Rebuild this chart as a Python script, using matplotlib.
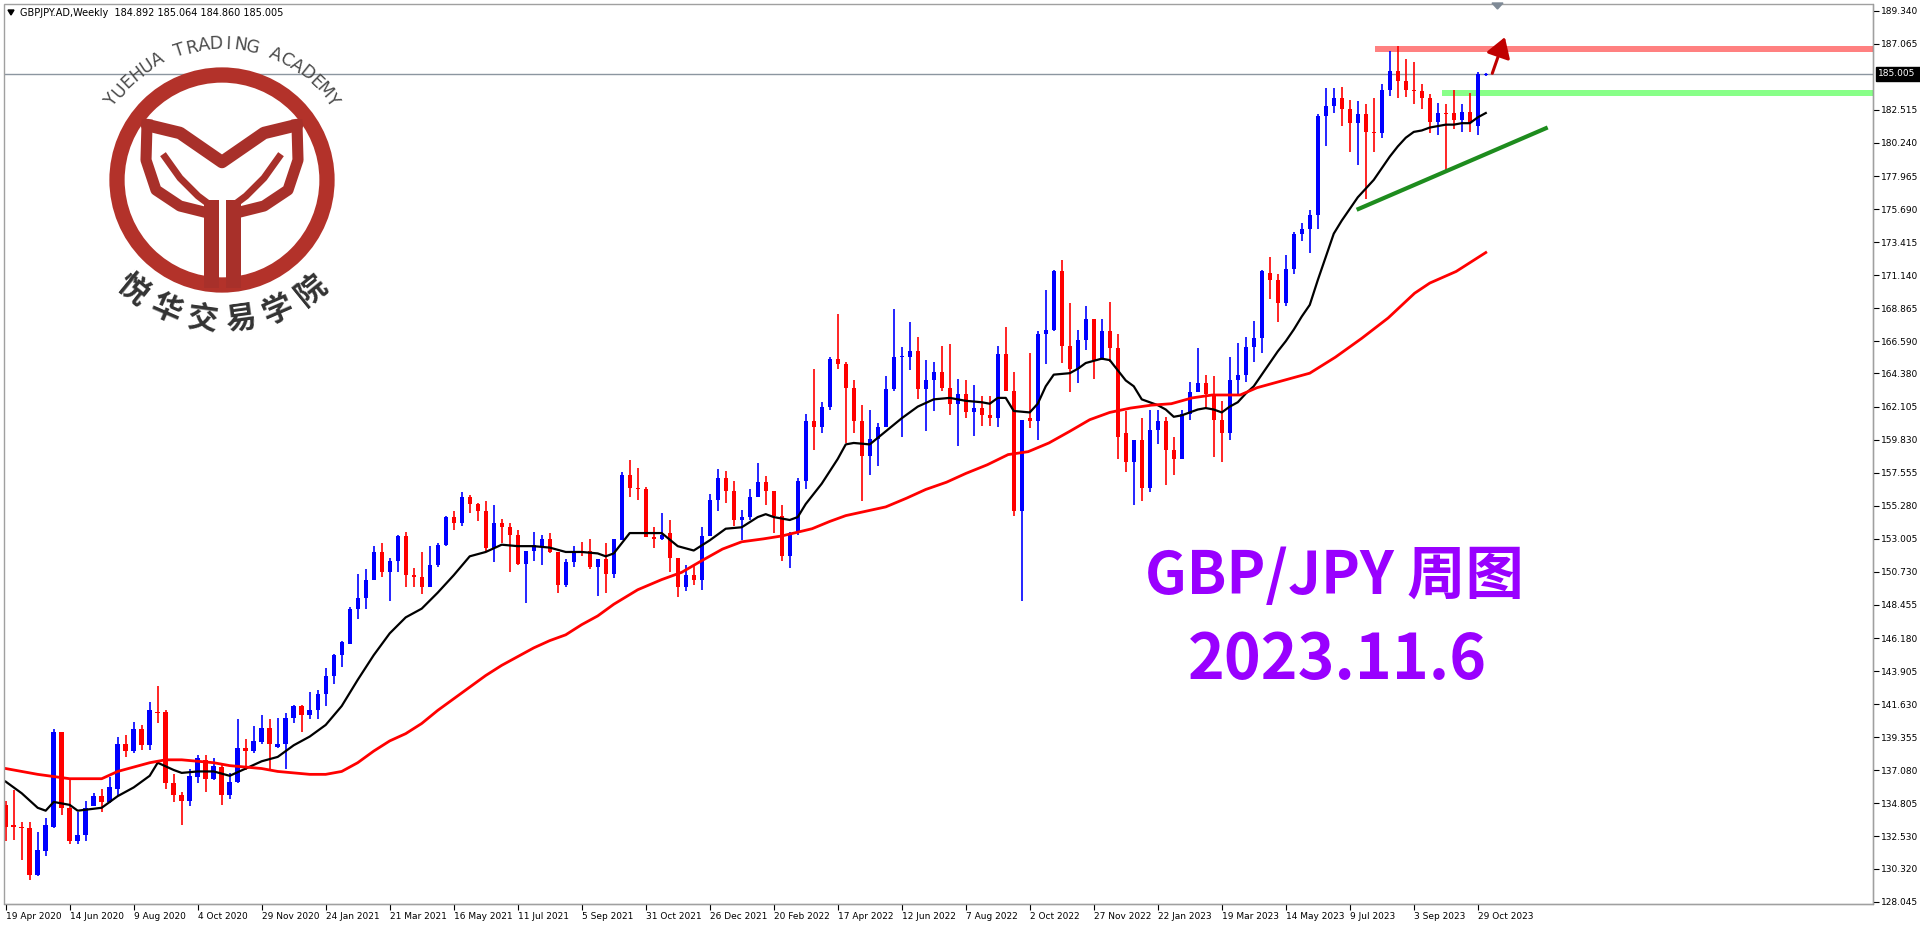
import numpy as np
import pandas as pd
import matplotlib
matplotlib.use("Agg")
import matplotlib.pyplot as plt
from matplotlib.patches import Circle, Rectangle, FancyArrowPatch

# -----------------------------------------
# Weekly GBPJPY candles (19 Apr 2020 .. 5 Nov 2023)
# -----------------------------------------
opens = [
    134.7, 133.3, 133.2, 133.1, 129.9, 131.5, 133.2, 139.7, 134.5, 132.2,
    132.6, 134.6, 135.3, 134.9, 135.8, 138.9, 138.4, 139.9, 138.8, 141.1,
    141.1, 136.2, 135.4, 135.0, 136.6, 137.8, 136.5, 137.3, 135.4, 136.3,
    138.6, 138.4, 139.0, 140.0, 138.7, 138.9, 140.7, 141.5, 140.9, 141.2,
    142.3, 143.6, 145.0, 145.8, 148.2, 148.9, 150.2, 152.1, 150.7, 151.5,
    153.2, 150.5, 150.4, 149.7, 151.2, 152.6, 154.5, 154.1, 155.9, 155.4,
    154.9, 152.4, 154.1, 153.8, 153.3, 151.3, 152.2, 152.5, 153.0, 152.1,
    149.8, 151.4, 152.2, 152.2, 151.1, 151.6, 150.6, 152.9, 157.4, 156.5,
    156.4, 153.1, 153.0, 153.4, 151.7, 149.7, 150.5, 150.2, 153.2, 155.7,
    157.2, 156.3, 154.3, 154.5, 155.9, 156.9, 156.3, 154.6, 151.8, 153.4,
    157.0, 161.1, 160.7, 162.1, 165.4, 165.0, 163.4, 161.1, 158.7, 159.9,
    160.7, 163.3, 165.5, 165.5, 165.9, 163.3, 163.9, 164.5, 163.4, 162.3,
    163.0, 161.7, 162.0, 161.5, 161.3, 165.7, 163.2, 154.9, 161.3, 161.1,
    167.1, 167.4, 171.4, 166.3, 164.7, 166.7, 168.1, 165.3, 167.3, 166.1,
    160.3, 158.3, 159.8, 156.5, 160.5, 161.1, 159.1, 158.5, 161.6, 163.1,
    163.7, 163.0, 161.2, 160.3, 163.9, 164.3, 166.2, 166.8, 171.3, 170.8,
    169.2, 171.6, 174.0, 174.3, 175.3, 182.1, 182.8, 183.3, 182.6, 181.6,
    182.2, 181.0, 180.9, 183.9, 185.2, 184.5, 183.9, 183.8, 183.3, 181.7,
    182.3, 182.3, 181.8, 182.4, 181.4, 184.892,
]
closes = [
    133.2, 133.2, 133.1, 129.9, 131.6, 133.3, 139.7, 134.5, 132.2, 132.6,
    134.5, 135.3, 134.9, 135.9, 138.9, 138.4, 139.9, 138.8, 141.2, 141.0,
    136.2, 135.4, 135.0, 136.7, 137.9, 136.5, 137.4, 135.4, 136.3, 138.6,
    138.4, 139.1, 140.0, 138.9, 138.9, 140.7, 141.5, 140.9, 141.2, 142.3,
    143.6, 145.0, 145.9, 148.2, 148.9, 150.2, 152.1, 150.7, 151.5, 153.2,
    150.5, 150.4, 149.7, 151.2, 152.6, 154.5, 154.1, 155.9, 155.4, 154.9,
    152.4, 154.1, 153.8, 153.3, 151.3, 152.2, 152.6, 153.0, 152.1, 149.8,
    151.4, 152.2, 152.1, 151.1, 151.6, 150.6, 153.0, 157.4, 156.5, 156.4,
    153.1, 153.0, 153.3, 151.7, 149.7, 150.5, 150.2, 153.2, 155.7, 157.2,
    156.3, 154.3, 154.5, 155.9, 156.9, 156.3, 154.6, 151.8, 153.4, 157.0,
    161.1, 160.7, 162.1, 165.4, 165.0, 163.4, 161.1, 158.7, 159.9, 160.7,
    163.3, 165.5, 165.5, 165.9, 163.3, 163.9, 164.5, 163.4, 162.3, 163.0,
    161.7, 162.0, 161.5, 161.3, 165.7, 163.2, 154.9, 161.2, 161.1, 167.1,
    167.4, 171.4, 166.3, 164.7, 166.7, 168.1, 165.3, 167.3, 166.1, 160.0,
    158.3, 159.8, 156.5, 160.5, 161.1, 159.1, 158.5, 161.6, 163.1, 163.7,
    163.0, 161.2, 160.3, 163.9, 164.3, 166.2, 166.8, 171.4, 170.8, 169.2,
    171.6, 174.0, 174.3, 175.3, 182.1, 182.8, 183.3, 182.6, 181.6, 182.2,
    181.0, 180.9, 183.9, 185.2, 184.5, 183.9, 183.8, 183.3, 181.7, 182.3,
    182.2, 181.8, 182.4, 181.6, 185.0, 185.005,
]
highs = [
    135.0, 135.7, 133.5, 133.5, 132.8, 133.8, 139.9, 139.7, 136.5, 134.2,
    135.0, 135.5, 135.8, 136.6, 139.4, 139.5, 140.4, 140.2, 141.8, 142.9,
    141.2, 136.8, 135.6, 137.2, 138.1, 138.1, 137.9, 137.6, 136.9, 140.6,
    139.2, 140.1, 140.9, 140.6, 140.7, 141.0, 141.6, 141.6, 142.5, 142.6,
    144.1, 145.1, 146.0, 148.3, 150.6, 150.9, 152.5, 152.7, 151.7, 153.3,
    153.5, 151.0, 152.1, 152.5, 152.7, 154.6, 154.9, 156.2, 156.0, 155.5,
    155.6, 155.3, 154.4, 154.1, 153.6, 152.2, 153.5, 153.3, 153.4, 152.1,
    151.6, 152.5, 152.8, 153.0, 151.6, 152.7, 153.0, 157.6, 158.4, 157.9,
    156.6, 153.8, 154.8, 154.3, 151.7, 151.2, 151.2, 153.8, 156.1, 157.8,
    157.7, 157.0, 155.0, 156.4, 158.2, 157.3, 156.3, 155.3, 153.5, 157.2,
    161.6, 164.7, 162.4, 165.5, 168.5, 165.2, 163.9, 162.2, 161.9, 161.0,
    164.2, 168.8, 166.2, 167.9, 166.9, 165.3, 165.2, 166.3, 166.4, 164.0,
    163.9, 163.6, 162.8, 162.8, 166.3, 167.6, 164.5, 161.2, 165.8, 167.3,
    170.1, 171.5, 172.2, 169.2, 167.4, 169.0, 168.1, 168.1, 169.3, 167.1,
    161.8, 159.8, 161.3, 161.9, 161.9, 161.4, 160.0, 161.9, 163.8, 166.1,
    164.3, 164.2, 162.5, 165.5, 166.5, 166.9, 168.0, 171.5, 172.4, 171.2,
    172.5, 174.1, 174.7, 175.6, 182.2, 184.0, 184.0, 184.1, 183.2, 183.1,
    182.9, 183.3, 184.3, 186.6, 186.9, 186.0, 185.8, 184.3, 183.6, 183.0,
    182.9, 183.9, 182.9, 183.7, 185.1, 185.064,
]
lows = [
    132.2, 132.3, 130.9, 129.5, 129.8, 131.2, 133.1, 134.0, 132.0, 132.0,
    132.2, 134.6, 134.2, 134.8, 135.3, 138.0, 138.3, 138.5, 138.5, 140.3,
    135.8, 134.9, 133.3, 134.6, 136.2, 135.6, 136.4, 134.7, 135.1, 136.2,
    137.1, 138.3, 138.9, 137.0, 138.6, 137.2, 140.3, 139.7, 140.6, 140.6,
    141.5, 143.0, 144.2, 145.8, 147.5, 148.2, 150.2, 150.4, 148.7, 150.7,
    149.7, 149.7, 149.2, 149.7, 151.1, 152.5, 153.6, 153.9, 154.8, 154.2,
    152.1, 151.4, 152.7, 150.7, 151.2, 148.6, 151.5, 151.2, 152.0, 149.3,
    149.7, 151.1, 151.8, 150.9, 149.1, 149.3, 150.3, 152.9, 155.9, 155.7,
    153.1, 152.4, 152.9, 150.7, 149.0, 149.4, 149.8, 149.5, 153.2, 154.9,
    155.5, 153.9, 152.9, 154.3, 155.9, 155.3, 153.4, 151.5, 151.0, 153.3,
    156.4, 159.1, 160.3, 161.9, 164.7, 159.6, 160.3, 155.6, 157.4, 158.0,
    160.7, 163.2, 160.0, 164.6, 162.6, 160.4, 161.8, 163.2, 161.5, 159.4,
    161.3, 160.1, 160.8, 160.8, 160.7, 163.2, 154.6, 148.7, 160.6, 159.8,
    165.0, 167.3, 165.1, 163.1, 163.7, 166.0, 164.0, 165.3, 165.2, 158.5,
    157.6, 155.3, 155.6, 156.2, 159.5, 156.7, 157.4, 158.5, 161.2, 163.1,
    162.1, 158.6, 158.3, 159.8, 162.9, 163.8, 165.2, 165.8, 169.5, 167.9,
    169.0, 171.2, 173.5, 172.7, 174.3, 180.0, 182.3, 181.4, 179.6, 178.7,
    176.4, 179.6, 180.6, 183.5, 183.3, 183.4, 182.9, 182.6, 180.9, 180.8,
    178.3, 181.2, 181.0, 181.0, 180.8, 184.86,
]

# moving averages, sampled at bar numbers (1 = first bar)
fast_ma_bar = [1, 3, 5, 6, 7, 9, 10, 13, 15, 17, 19, 20, 22, 23, 25, 27, 29, 31, 33, 35,
               37, 39, 41, 43, 45, 47, 49, 51, 53, 55, 57, 59, 61, 63, 65, 67, 69, 71, 73, 75,
               76, 77, 79, 81, 83, 85, 87, 89, 91, 93, 95, 96, 97, 99, 100, 101, 103, 105, 106, 107,
               109, 111, 113, 115, 117, 119, 121, 123, 124, 125, 126, 127, 129, 130, 131, 132, 134, 135, 136, 138,
               139, 140, 141, 142, 143, 145, 146, 147, 148, 150, 151, 152, 153, 154, 155, 156, 157, 158, 159, 160,
               161, 162, 163, 164, 165, 166, 167, 168, 169, 170, 171, 172, 173, 174, 175, 176, 177, 178, 179, 180,
               181, 182, 183, 184, 185, 186]
fast_ma_val = [136.3, 135.5, 134.5, 134.3, 134.9, 134.7, 134.3, 134.5, 135.3, 135.9, 136.7, 137.6, 137.1, 136.9, 137.0, 137.0, 136.7, 137.2, 137.7, 138.0,
               138.8, 139.4, 140.2, 141.5, 143.3, 145.0, 146.5, 147.6, 148.2, 149.3, 150.5, 151.8, 152.1, 152.6, 152.5, 152.5, 152.4, 152.1, 152.1, 152.0,
               151.8, 152.0, 153.4, 153.4, 153.4, 152.5, 152.2, 152.9, 153.7, 153.8, 154.5, 154.7, 154.5, 154.3, 154.5, 155.4, 156.8, 158.5, 159.5, 159.6,
               159.5, 160.4, 161.3, 162.1, 162.6, 162.7, 162.5, 162.4, 162.3, 162.7, 162.7, 161.8, 161.7, 162.3, 163.5, 164.3, 164.4, 164.7, 165.1, 165.4,
               165.3, 164.6, 163.9, 163.5, 162.6, 162.2, 161.9, 161.4, 161.5, 161.9, 162.0, 161.9, 161.7, 162.1, 162.4, 163.0, 163.5, 164.3, 165.1, 165.9,
               166.6, 167.4, 168.3, 169.1, 170.8, 172.4, 174.0, 174.9, 175.7, 176.5, 177.1, 177.7, 178.5, 179.3, 180.0, 180.6, 181.0, 181.1, 181.3, 181.4,
               181.5, 181.5, 181.6, 181.6, 182.0, 182.3]

slow_ma_bar = [1, 5, 9, 13, 15, 17, 19, 21, 23, 25, 27, 29, 31, 33, 35, 37, 39, 41, 43, 45,
               47, 49, 51, 53, 55, 57, 59, 61, 63, 65, 67, 69, 71, 73, 75, 77, 80, 83, 85.5, 88,
               90.6, 93, 95.7, 98, 101.8, 104, 106, 108.5, 111, 113.6, 116, 118.6, 121, 123.7, 126.3, 128.8, 131.4, 134, 136.5, 139,
               141.6, 144.2, 146.7, 149.3, 151.8, 155.3, 157.4, 160.7, 164, 167.2, 170.5, 173.8, 177.1, 179, 182.3, 186]
slow_ma_val = [137.2, 136.8, 136.5, 136.5, 137.0, 137.3, 137.6, 137.8, 137.8, 137.7, 137.6, 137.4, 137.3, 137.2, 137.0, 136.9, 136.8, 136.8, 137.0, 137.6,
               138.4, 139.1, 139.6, 140.3, 141.2, 142.0, 142.8, 143.6, 144.3, 144.9, 145.5, 146.0, 146.4, 147.1, 147.7, 148.5, 149.5, 150.2, 150.7, 151.5,
               152.3, 152.8, 153.0, 153.2, 153.7, 154.2, 154.6, 154.9, 155.2, 155.8, 156.4, 156.9, 157.5, 158.1, 158.8, 159.0, 159.6, 160.4, 161.2, 161.7,
               162.0, 162.2, 162.3, 162.7, 162.9, 162.9, 163.4, 163.9, 164.4, 165.5, 166.8, 168.2, 169.9, 170.6, 171.4, 172.7]

price_ticks = [128.045, 130.320, 132.530, 134.805, 137.080, 139.355, 141.630, 143.905,
               146.180, 148.455, 150.730, 153.005, 155.280, 157.555, 159.830, 162.105,
               164.380, 166.590, 168.865, 171.140, 173.415, 175.690, 177.965, 180.240,
               182.515, 187.065, 189.340]
last_price = 185.005

# support / resistance drawings (bar number, price)
resist_band = (172.2, 186.5, 186.9)
support_band = (180.5, 183.5, 183.9)
trend_line = [(170.1, 175.7), (193.5, 181.25)]
arrow_pts = [(186.7, 184.85), (188.5, 187.7)]

n = len(closes)
x = np.arange(n)
dates = pd.date_range("2020-04-19", periods=n, freq="7D")

# -----------------------------------------
# Figure
# -----------------------------------------
W, H = 1920, 927
fig = plt.figure(figsize=(W / 100, H / 100), dpi=100)
ax = fig.add_axes([4 / W, 23 / H, 1869 / W, 900 / H])
ax.set_xlim(-0.21, 233.4)
ax.set_ylim(127.88, 189.80)

o = np.array(opens); c = np.array(closes)
hi = np.array(highs); lo = np.array(lows)
up = c >= o
cols = np.where(up, "#0000ff", "#ff0000")
ax.vlines(x, lo, hi, colors=cols, linewidth=1.2, zorder=3)
body_h = np.maximum(np.abs(c - o), 0.07)
ax.bar(x, body_h, bottom=np.minimum(o, c), width=0.55, color=cols, linewidth=0, zorder=4)

ax.plot(np.array(fast_ma_bar) - 1, fast_ma_val, color="black", lw=1.6, zorder=5)
ax.plot(np.array(slow_ma_bar) - 1, slow_ma_val, color="#ff0000", lw=2.0, zorder=5)

# horizontal levels
ax.axhline(last_price, color="#8c96a0", lw=1.0, zorder=1)
ax.add_patch(Rectangle((resist_band[0] - 1, resist_band[1]), 300, resist_band[2] - resist_band[1],
                       color="#ff8080", lw=0, zorder=2))
ax.add_patch(Rectangle((support_band[0] - 1, support_band[1]), 300, support_band[2] - support_band[1],
                       color="#88ff88", lw=0, zorder=2))
ax.plot([p[0] - 1 for p in trend_line], [p[1] for p in trend_line], color="#1e8c1e", lw=3, zorder=6)
ax.add_patch(FancyArrowPatch((arrow_pts[0][0] - 1, arrow_pts[0][1]), (arrow_pts[1][0] - 1, arrow_pts[1][1]),
                             arrowstyle="-|>,head_length=8,head_width=5", color="#c00000", lw=2.2,
                             mutation_scale=1.5, zorder=7))

# axes styling
for s in ["top", "left"]:
    ax.spines[s].set_visible(False)
ax.spines["right"].set_color("black")
ax.spines["bottom"].set_color("black")
ax.yaxis.tick_right()
ax.set_yticks(price_ticks)
ax.set_yticklabels([f"{v:.3f}" for v in price_ticks], fontsize=6.5)
ax.tick_params(axis="y", length=4, pad=2, colors="black")
lab_idx = list(range(0, n, 8))
ax.set_xticks(lab_idx)
ax.set_xticklabels([f"{d.day} {d.strftime('%b %Y')}" for d in dates[lab_idx]], fontsize=6.5, ha="left")
ax.tick_params(axis="x", length=4, pad=2)

# -----------------------------------------
# overlay in pixel coordinates
# -----------------------------------------
ov = fig.add_axes([0, 0, 1, 1])
ov.set_xlim(0, W)
ov.set_ylim(H, 0)
ov.axis("off")
ov.patch.set_alpha(0)

ov.add_patch(Rectangle((4, 4), 1869, 900, fill=False, ec="#a0a0a0", lw=1))
ov.text(20, 13, "GBPJPY.AD,Weekly  184.892 185.064 184.860 185.005", fontsize=7, va="center", color="black")
ov.fill([8, 14, 11], [10, 10, 15], color="black")
ov.fill([1492, 1503, 1497.5], [3, 3, 9], color="#7f8a96")

# price box
yp = 4 + (189.80 - last_price) / (189.80 - 127.88) * 900
ov.add_patch(Rectangle((1876, yp - 7), 44, 14, color="black"))
ov.text(1878, yp, f"{last_price:.3f}", color="white", fontsize=6.5, va="center")

# logo
cx, cy = 222, 180
ov.add_patch(Circle((cx, cy), 105, fill=False, ec="#b3322a", lw=11))
red = "#a8302a"
ov.plot([147, 180, 222, 264, 297], [125, 133, 162, 133, 125], color=red, lw=9, solid_capstyle="round")
ov.plot([147, 146, 156, 180, 204], [125, 160, 190, 206, 212], color=red, lw=8)
ov.plot([297, 298, 288, 264, 240], [125, 160, 190, 206, 212], color=red, lw=8)
ov.plot([165, 180, 198, 210], [157, 178, 196, 205], color=red, lw=5)
ov.plot([279, 264, 246, 234], [157, 178, 196, 205], color=red, lw=5)
ov.add_patch(Rectangle((204, 200), 15, 88, color=red, lw=0))
ov.add_patch(Rectangle((226, 200), 15, 88, color=red, lw=0))

eng = "YUEHUA TRADING ACADEMY"
angs = np.linspace(144, 36, len(eng))
for ch, a in zip(eng, angs):
    r = np.radians(a)
    ov.text(cx + 136 * np.cos(r), cy - 136 * np.sin(r), ch, fontsize=12.5, color="#4a4a4a",
            rotation=a - 90, ha="center", va="center", family="DejaVu Sans")
chn = "悦华交易学院"
angs = np.linspace(-129, -51, len(chn))
for ch, a in zip(chn, angs):
    r = np.radians(a)
    ov.text(cx + 141 * np.cos(r), cy - 141 * np.sin(r), ch, fontsize=22, color="#333333",
            rotation=a + 90, ha="center", va="center", family="Noto Sans CJK SC", weight="bold")

# title text
ov.text(1334, 577, "GBP/JPY 周图", fontsize=42, color="#9900ff", ha="center", va="center",
        family=["Noto Sans CJK SC", "DejaVu Sans"], weight="bold")
ov.text(1337, 660, "2023.11.6", fontsize=45, color="#9900ff", ha="center", va="center",
        family=["Noto Sans CJK SC", "DejaVu Sans"], weight="bold")

fig.savefig("out.png", dpi=100)
